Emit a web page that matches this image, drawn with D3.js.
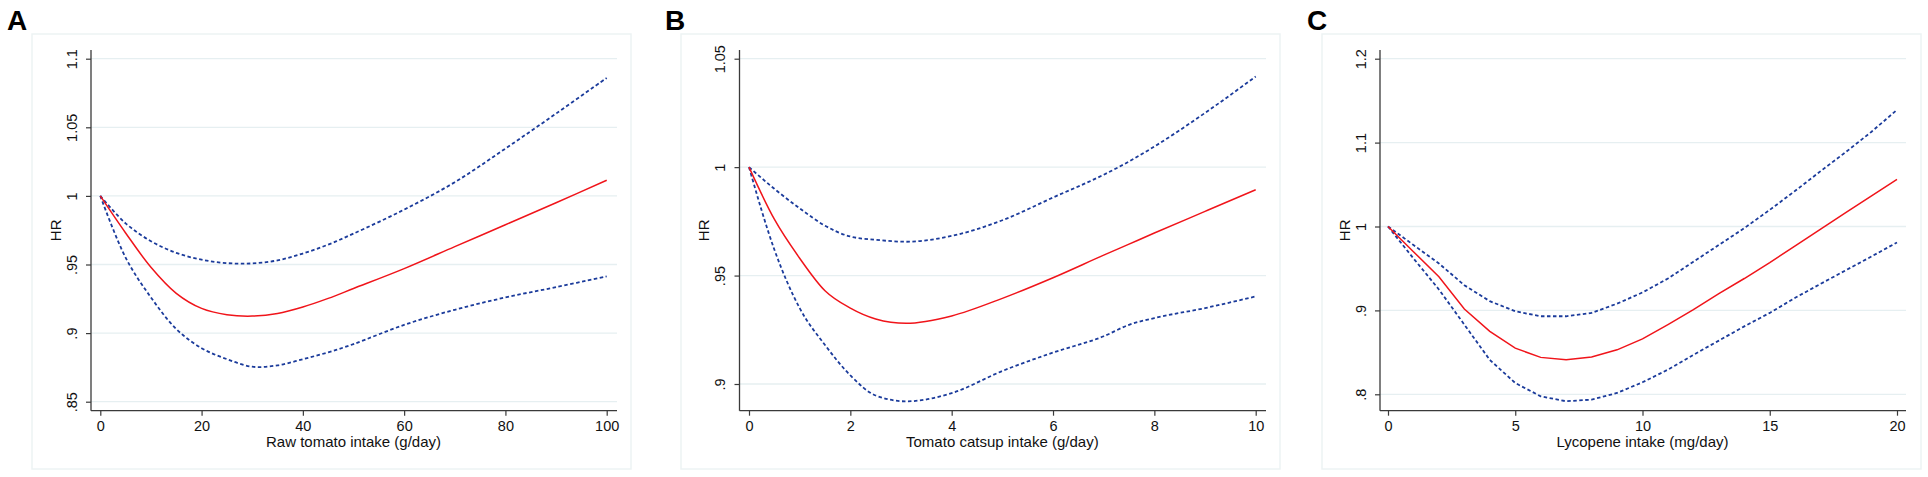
<!DOCTYPE html>
<html>
<head>
<meta charset="utf-8">
<script src="https://cdn.jsdelivr.net/npm/d3@7"></script>
<style>
  body { margin: 0; background: #fff; }
  svg { display: block; font-family: "Liberation Sans", Arial, sans-serif; }
</style>
</head>
<body>
<svg id="chart" width="1928" height="477"></svg>
<script>
// panel A: raw tomato intake
const xA = [0, 5, 10, 15, 20, 25, 30, 35, 40, 45, 50, 60, 70, 80, 90, 100];
const hrA = [1.0, 0.973, 0.948, 0.929, 0.918, 0.9134, 0.9124, 0.9143, 0.919, 0.9253, 0.9325, 0.947, 0.963, 0.979, 0.995, 1.0114];
const upA = [1.0, 0.980, 0.967, 0.9585, 0.9535, 0.951, 0.9508, 0.953, 0.958, 0.9645, 0.9725, 0.990, 1.010, 1.0345, 1.060, 1.086];
const loA = [1.0, 0.955, 0.926, 0.903, 0.889, 0.881, 0.8755, 0.8765, 0.881, 0.886, 0.892, 0.906, 0.917, 0.926, 0.9335, 0.9414];
const xTicksA = [0, 20, 40, 60, 80, 100];
const yTicksA = [0.85, 0.9, 0.95, 1, 1.05, 1.1];
const yLabelsA = ['.85', '.9', '.95', '1', '1.05', '1.1'];

// panel B: tomato catsup intake
const xB = [0, 0.5, 1, 1.5, 2, 2.5, 3.1, 4, 5, 6, 7, 7.5, 8, 9, 10];
const hrB = [1.0, 0.976, 0.958, 0.943, 0.935, 0.930, 0.928, 0.9314, 0.9395, 0.949, 0.9594, 0.9645, 0.9696, 0.9796, 0.9896];
const upB = [1.0, 0.990, 0.981, 0.973, 0.968, 0.9665, 0.9656, 0.9683, 0.9755, 0.986, 0.9965, 1.0026, 1.0095, 1.025, 1.0418];
const loB = [1.0, 0.962, 0.935, 0.918, 0.904, 0.8947, 0.892, 0.8958, 0.906, 0.9145, 0.922, 0.9273, 0.9304, 0.935, 0.9404];
const xTicksB = [0, 2, 4, 6, 8, 10];
const yTicksB = [0.9, 0.95, 1, 1.05];
const yLabelsB = ['.9', '.95', '1', '1.05'];

// panel C: lycopene intake
const xC = [0, 1, 2, 3, 4, 5, 6, 7, 8, 9, 10, 11, 12, 13, 14, 15, 16, 17, 18, 19, 20];
const hrC = [1.0, 0.970, 0.940, 0.9016, 0.875, 0.855, 0.844, 0.8413, 0.8444, 0.853, 0.866, 0.883, 0.9008, 0.920, 0.938, 0.957, 0.977, 0.997, 1.0167, 1.0365, 1.0563];
const upC = [1.0, 0.978, 0.956, 0.930, 0.911, 0.899, 0.893, 0.893, 0.897, 0.908, 0.9214, 0.938, 0.958, 0.978, 0.998, 1.0198, 1.0425, 1.066, 1.089, 1.113, 1.139];
const loC = [1.0, 0.962, 0.925, 0.883, 0.841, 0.8135, 0.7976, 0.7917, 0.7937, 0.8016, 0.8143, 0.8294, 0.847, 0.864, 0.881, 0.897, 0.915, 0.9317, 0.948, 0.9643, 0.981];
const xTicksC = [0, 5, 10, 15, 20];
const yTicksC = [0.8, 0.9, 1, 1.1, 1.2];
const yLabelsC = ['.8', '.9', '1', '1.1', '1.2'];

const panels = [
  { letter: 'A', lx: 7, frame: [32, 631], axisX: 91, xr: [100.3, 606.7], axisEnd: 617,
    xd: [0, 100], yd: [0.85, 1.1], yr: [401.7, 58.7], curve: d3.curveCatmullRom.alpha(0.5),
    x: xA, hr: hrA, up: upA, lo: loA, xTicks: xTicksA, yTicks: yTicksA, yLabels: yLabelsA,
    title: 'Raw tomato intake (g/day)' },
  { letter: 'B', lx: 665, frame: [681, 1280], axisX: 739.5, xr: [749, 1255.7], axisEnd: 1266,
    xd: [0, 10], yd: [0.9, 1.05], yr: [384, 58.7], curve: d3.curveMonotoneX,
    x: xB, hr: hrB, up: upB, lo: loB, xTicks: xTicksB, yTicks: yTicksB, yLabels: yLabelsB,
    title: 'Tomato catsup intake (g/day)' },
  { letter: 'C', lx: 1307, frame: [1322, 1921], axisX: 1380, xr: [1388, 1897], axisEnd: 1906,
    xd: [0, 20], yd: [0.8, 1.2], yr: [394.3, 58.7], curve: d3.curveLinear,
    x: xC, hr: hrC, up: upC, lo: loC, xTicks: xTicksC, yTicks: yTicksC, yLabels: yLabelsC,
    title: 'Lycopene intake (mg/day)' }
];

const svg = d3.select('#chart');
const axisTop = 50;
const axisBottomY = 410.7;
const axisColor = '#3a3a3a';

panels.forEach(p => {
  const g = svg.append('g');
  const xScale = d3.scaleLinear().domain(p.xd).range(p.xr);
  const yScale = d3.scaleLinear().domain(p.yd).range(p.yr);

  // outer frame
  g.append('rect')
    .attr('x', p.frame[0]).attr('y', 34)
    .attr('width', p.frame[1] - p.frame[0]).attr('height', 435)
    .attr('fill', '#fff').attr('stroke', '#edf3f4').attr('stroke-width', 1.5);

  g.append('text')
    .attr('x', p.lx).attr('y', 30)
    .attr('font-size', 28).attr('font-weight', 'bold')
    .text(p.letter);

  // grid lines
  g.selectAll('.grid')
    .data(p.yTicks)
    .join('line')
    .attr('x1', p.axisX).attr('x2', p.axisEnd)
    .attr('y1', d => yScale(d)).attr('y2', d => yScale(d))
    .attr('stroke', '#e6eff1').attr('stroke-width', 1.3);

  // x axis
  const xAxis = d3.axisBottom(xScale).tickValues(p.xTicks).tickSize(5).tickPadding(5).tickSizeOuter(0);
  g.append('g')
    .attr('transform', `translate(0,${axisBottomY})`)
    .call(xAxis)
    .call(a => a.select('.domain').remove())
    .call(a => a.selectAll('line').attr('stroke', axisColor).attr('stroke-width', 1.2))
    .call(a => a.selectAll('text').attr('font-size', 14.5).attr('fill', '#111')
      .attr('font-family', '"Liberation Sans", Arial, sans-serif'));

  // y axis with rotated labels
  const yAxis = d3.axisLeft(yScale).tickValues(p.yTicks).tickSize(5).tickSizeOuter(0)
    .tickFormat((d, i) => p.yLabels[i]);
  g.append('g')
    .attr('transform', `translate(${p.axisX},0)`)
    .call(yAxis)
    .call(a => a.select('.domain').remove())
    .call(a => a.selectAll('line').attr('stroke', axisColor).attr('stroke-width', 1.2))
    .call(a => a.selectAll('text')
      .attr('font-size', 14.5).attr('fill', '#111')
      .attr('font-family', '"Liberation Sans", Arial, sans-serif')
      .attr('text-anchor', 'middle')
      .attr('x', 0).attr('y', -14.5).attr('dy', 0)
      .attr('transform', 'rotate(-90)'));

  // axis lines
  g.append('line')
    .attr('x1', p.axisX).attr('x2', p.axisX).attr('y1', axisTop).attr('y2', axisBottomY)
    .attr('stroke', axisColor).attr('stroke-width', 1.3);
  g.append('line')
    .attr('x1', p.axisX).attr('x2', p.axisEnd).attr('y1', axisBottomY).attr('y2', axisBottomY)
    .attr('stroke', axisColor).attr('stroke-width', 1.3);

  // titles
  g.append('text')
    .attr('x', (p.xr[0] + p.xr[1]) / 2).attr('y', 447)
    .attr('text-anchor', 'middle').attr('font-size', 15).attr('fill', '#111')
    .text(p.title);
  g.append('text')
    .attr('transform', `translate(${p.axisX - 30.5},${(axisTop + axisBottomY) / 2}) rotate(-90)`)
    .attr('text-anchor', 'middle').attr('font-size', 15).attr('fill', '#111')
    .text('HR');

  const line = vals => d3.line()
    .x((d, i) => xScale(p.x[i]))
    .y(d => yScale(d))
    .curve(p.curve)(vals);

  [p.up, p.lo].forEach(vals => {
    g.append('path')
      .attr('d', line(vals))
      .attr('fill', 'none')
      .attr('stroke', '#1b3b9b')
      .attr('stroke-width', 1.8)
      .attr('stroke-dasharray', '3.5,2.5');
  });
  g.append('path')
    .attr('d', line(p.hr))
    .attr('fill', 'none')
    .attr('stroke', '#f0141a')
    .attr('stroke-width', 1.5);
});
</script>
</body>
</html>
